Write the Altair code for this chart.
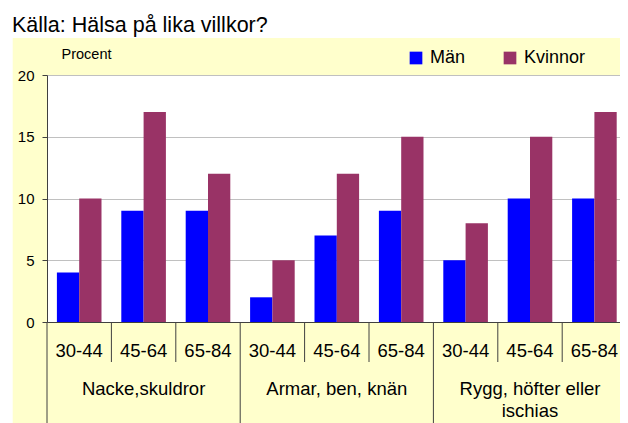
import altair as alt
import pandas as pd

groups = ["Nacke,skuldror", "Armar, ben, knän", "Rygg, höfter eller\nischias"]
ages = ["30-44", "45-64", "65-84"]
man = [4, 9, 9, 2, 7, 9, 5, 10, 10]
kvinnor = [10, 17, 12, 5, 12, 15, 8, 15, 17]
series = ["Män", "Kvinnor"]
colors = ["#0000FF", "#993366"]
y_ticks = [0, 5, 10, 15, 20]
title_text = "Källa: Hälsa på lika villkor?"
y_title = "Procent"

FONT = "Liberation Sans"
W, H = 573, 247
STEP_RANGE = 579.6
DARK = "#404040"

cats = [f"{gi}|{a}" for gi in range(len(groups)) for a in ages]

rows = []
for i, c in enumerate(cats):
    rows.append({"cat": c, "serie": series[0], "value": man[i]})
    rows.append({"cat": c, "serie": series[1], "value": kvinnor[i]})
bars_df = pd.DataFrame(rows)

xscale = alt.Scale(domain=cats, range=[0, STEP_RANGE], paddingInner=0, paddingOuter=0)

bars = alt.Chart(bars_df).mark_bar().encode(
    x=alt.X("cat:N", sort=cats, scale=xscale,
            axis=alt.Axis(title=None, ticks=False, tickSize=0, labelPadding=34,
                          labelBaseline="alphabetic", labelExpr="split(datum.value, '|')[1]",
                          labelFont=FONT, labelFontSize=18.5, labelColor="black",
                          labelAngle=0, domainColor=DARK, grid=False, zindex=1)),
    xOffset=alt.XOffset("serie:N", sort=series,
                        scale=alt.Scale(domain=series, paddingInner=0, paddingOuter=0.444)),
    y=alt.Y("value:Q", scale=alt.Scale(domain=[0, 20], nice=False),
            axis=alt.Axis(values=y_ticks, title=y_title, titleAngle=0, titleX=14, titleY=-17,
                          titleAlign="left", titleBaseline="alphabetic", titleFont=FONT,
                          titleFontSize=14.5, titleFontWeight="normal", titleColor="black",
                          labelFont=FONT, labelFontSize=15, labelColor="black",
                          labelPadding=8, tickSize=5, tickColor=DARK, domainColor=DARK,
                          grid=True, gridColor="#C0C0C0", zindex=0)),
    color=alt.Color("serie:N", sort=series, scale=alt.Scale(domain=series, range=colors),
                    legend=alt.Legend(title=None, orient="none", legendX=360, legendY=-26,
                                      direction="horizontal", symbolType="square",
                                      symbolSize=161, symbolStrokeWidth=0,
                                      labelFont=FONT, labelFontSize=18, labelColor="black",
                                      labelOffset=5, columnPadding=35)),
)

short_df = pd.DataFrame({"cat": [c for i, c in enumerate(cats) if i % 3 != 0]})
long_df = pd.DataFrame({"cat": [c for i, c in enumerate(cats) if i % 3 == 0]})

sep_short = alt.Chart(short_df).mark_rule(color=DARK, strokeWidth=1).encode(
    x=alt.X("cat:N", sort=cats, bandPosition=0),
    y=alt.value(H), y2=alt.value(H + 40),
)
sep_long = alt.Chart(long_df).mark_rule(color=DARK, strokeWidth=1).encode(
    x=alt.X("cat:N", sort=cats, bandPosition=0),
    y=alt.value(H), y2=alt.value(H + 110),
)

label_df = pd.DataFrame({"cat": [f"{gi}|{ages[1]}" for gi in range(len(groups))],
                         "label": groups})
group_labels = alt.Chart(label_df).mark_text(
    font=FONT, fontSize=18.5, color="black", baseline="alphabetic", align="center",
    lineBreak="\n", lineHeight=21.7,
).encode(
    x=alt.X("cat:N", sort=cats),
    y=alt.value(H + 73),
    text="label:N",
)

one = pd.DataFrame({"a": [0]})
top_strip = alt.Chart(one).mark_rect(color="white").encode(
    x=alt.value(-39), x2=alt.value(W + 20), y=alt.value(-67), y2=alt.value(-37))
left_strip = alt.Chart(one).mark_rect(color="white").encode(
    x=alt.value(-39), x2=alt.value(-34.3), y=alt.value(-37), y2=alt.value(H + 110))

chart = alt.layer(top_strip, left_strip, bars, sep_short, sep_long, group_labels).properties(
    width=W, height=H,
    autosize=alt.AutoSizeParams(type="none"),
    padding={"left": 39, "top": 67, "right": 0, "bottom": 101},
    background="#FFFFCC",
    title=alt.TitleParams(text=title_text, anchor="start", frame="group", orient="top",
                          font=FONT, fontSize=21.5, fontWeight="normal", color="black",
                          baseline="alphabetic", offset=0, dx=-35, dy=45),
).configure_view(fill="white", stroke=None)

chart.save("out.html", embed_options={"renderer": "svg", "actions": False})
